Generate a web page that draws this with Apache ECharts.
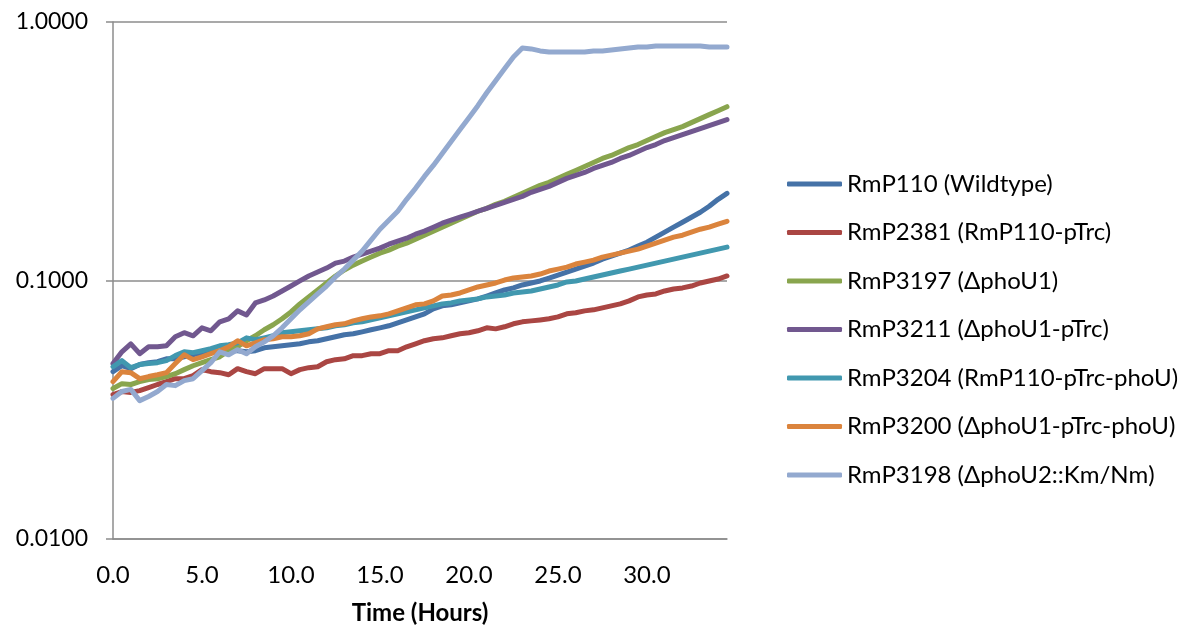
<!DOCTYPE html>
<html>
<head>
<meta charset="utf-8">
<script src="https://cdn.jsdelivr.net/npm/echarts@6/dist/echarts.min.js"></script>
<style>
html,body{margin:0;padding:0;background:#fff;}
#chart{width:1199px;height:630px;}
</style>
</head>
<body>
<div id="chart"></div>
<script>
const times = [0.0,0.5,1.0,1.5,2.0,2.5,3.0,3.5,4.0,4.5,5.0,5.5,6.0,6.5,7.0,7.5,8.0,8.5,9.0,9.5,
  10.0,10.5,11.0,11.5,12.0,12.5,13.0,13.5,14.0,14.5,15.0,15.5,16.0,16.5,17.0,17.5,18.0,18.5,19.0,19.5,
  20.0,20.5,21.0,21.5,22.0,22.5,23.0,23.5,24.0,24.5,25.0,25.5,26.0,26.5,27.0,27.5,28.0,28.5,29.0,29.5,
  30.0,30.5,31.0,31.5,32.0,32.5,33.0,33.5,34.0,34.5];

const seriesNames = ['RmP110 (Wildtype)','RmP2381 (RmP110-pTrc)','RmP3197 (\u0394phoU1)','RmP3211 (\u0394phoU1-pTrc)',
  'RmP3204 (RmP110-pTrc-phoU)','RmP3200 (\u0394phoU1-pTrc-phoU)','RmP3198 (\u0394phoU2::Km/Nm)'];

const rmp110 = [0.0444,0.0468,0.0456,0.0473,0.0481,0.0485,0.0498,0.0498,0.0507,0.0516,
  0.0526,0.0535,0.0526,0.0535,0.0535,0.0530,0.0535,0.0549,0.0554,0.0559,
  0.0564,0.0569,0.0579,0.0585,0.0595,0.0606,0.0617,0.0622,0.0633,0.0645,
  0.0656,0.0668,0.0686,0.0704,0.0723,0.0743,0.0777,0.0798,0.0805,0.0819,
  0.0834,0.0849,0.0871,0.0895,0.0919,0.0936,0.0961,0.0978,0.0996,0.1022,
  0.1050,0.1078,0.1107,0.1137,0.1168,0.1210,0.1243,0.1276,0.1311,0.1358,
  0.1407,0.1471,0.1538,0.1608,0.1680,0.1757,0.1836,0.1937,0.2061,0.2174];

const rmp2381 = [0.0362,0.0372,0.0369,0.0375,0.0385,0.0396,0.0406,0.0417,0.0417,0.0429,
  0.0452,0.0444,0.0440,0.0432,0.0456,0.0444,0.0436,0.0456,0.0456,0.0456,
  0.0436,0.0452,0.0460,0.0464,0.0485,0.0494,0.0498,0.0512,0.0512,0.0521,
  0.0521,0.0535,0.0535,0.0554,0.0569,0.0585,0.0595,0.0600,0.0611,0.0622,
  0.0628,0.0639,0.0656,0.0650,0.0662,0.0680,0.0692,0.0698,0.0704,0.0711,
  0.0723,0.0743,0.0750,0.0763,0.0770,0.0784,0.0798,0.0812,0.0834,0.0864,
  0.0879,0.0887,0.0911,0.0927,0.0936,0.0952,0.0978,0.0996,0.1013,0.1041];

const rmp3197 = [0.0382,0.0399,0.0396,0.0406,0.0414,0.0417,0.0425,0.0436,0.0452,0.0468,
  0.0481,0.0494,0.0507,0.0535,0.0554,0.0585,0.0611,0.0645,0.0674,0.0711,
  0.0756,0.0812,0.0864,0.0919,0.0978,0.1041,0.1098,0.1147,0.1189,0.1232,
  0.1276,0.1311,0.1358,0.1395,0.1445,0.1497,0.1552,0.1608,0.1666,0.1726,
  0.1788,0.1853,0.1903,0.1971,0.2025,0.2098,0.2174,0.2252,0.2333,0.2396,
  0.2483,0.2573,0.2666,0.2762,0.2862,0.2965,0.3045,0.3155,0.3269,0.3357,
  0.3479,0.3604,0.3734,0.3835,0.3939,0.4081,0.4228,0.4381,0.4539,0.4703];

const rmp3211 = [0.0477,0.0530,0.0569,0.0521,0.0554,0.0554,0.0559,0.0606,0.0628,0.0611,
  0.0656,0.0639,0.0692,0.0711,0.0763,0.0736,0.0819,0.0841,0.0871,0.0911,
  0.0952,0.0996,0.1041,0.1078,0.1117,0.1168,0.1189,0.1232,0.1265,0.1299,
  0.1334,0.1382,0.1420,0.1458,0.1511,0.1552,0.1608,0.1666,0.1711,0.1757,
  0.1804,0.1853,0.1903,0.1954,0.2007,0.2061,0.2116,0.2193,0.2252,0.2313,
  0.2396,0.2483,0.2550,0.2619,0.2713,0.2787,0.2862,0.2965,0.3045,0.3155,
  0.3269,0.3357,0.3479,0.3572,0.3669,0.3768,0.3869,0.3974,0.4081,0.4191];

const rmp3204 = [0.0464,0.0490,0.0460,0.0473,0.0477,0.0481,0.0490,0.0512,0.0530,0.0526,
  0.0535,0.0545,0.0559,0.0564,0.0574,0.0600,0.0590,0.0600,0.0611,0.0628,
  0.0633,0.0639,0.0645,0.0650,0.0656,0.0668,0.0674,0.0686,0.0692,0.0704,
  0.0717,0.0730,0.0743,0.0756,0.0770,0.0784,0.0798,0.0812,0.0819,0.0834,
  0.0841,0.0849,0.0864,0.0871,0.0879,0.0895,0.0903,0.0911,0.0927,0.0944,
  0.0961,0.0987,0.0996,0.1013,0.1032,0.1050,0.1069,0.1088,0.1107,0.1127,
  0.1147,0.1168,0.1189,0.1210,0.1232,0.1254,0.1276,0.1299,0.1322,0.1346];

const rmp3200 = [0.0406,0.0444,0.0440,0.0417,0.0425,0.0432,0.0440,0.0477,0.0516,0.0494,
  0.0507,0.0521,0.0535,0.0554,0.0585,0.0559,0.0574,0.0590,0.0595,0.0606,
  0.0606,0.0611,0.0622,0.0650,0.0662,0.0674,0.0680,0.0698,0.0711,0.0723,
  0.0730,0.0743,0.0763,0.0784,0.0805,0.0812,0.0834,0.0871,0.0879,0.0895,
  0.0919,0.0944,0.0961,0.0978,0.1004,0.1022,0.1032,0.1041,0.1059,0.1088,
  0.1107,0.1127,0.1158,0.1178,0.1199,0.1232,0.1254,0.1276,0.1299,0.1322,
  0.1358,0.1395,0.1432,0.1471,0.1497,0.1538,0.1579,0.1608,0.1651,0.1695];

const rmp3198 = [0.0350,0.0372,0.0379,0.0343,0.0356,0.0372,0.0396,0.0392,0.0410,0.0417,
  0.0448,0.0481,0.0530,0.0516,0.0540,0.0521,0.0554,0.0579,0.0611,0.0656,
  0.0711,0.0770,0.0826,0.0887,0.0952,0.1032,0.1107,0.1199,0.1299,0.1432,
  0.1579,0.1711,0.1853,0.2061,0.2272,0.2527,0.2787,0.3100,0.3448,0.3835,
  0.4266,0.4745,0.5325,0.5924,0.6589,0.7329,0.7939,0.7869,0.7730,0.7662,
  0.7662,0.7662,0.7662,0.7662,0.7730,0.7730,0.7799,0.7869,0.7939,0.8009,
  0.8009,0.8081,0.8081,0.8081,0.8081,0.8081,0.8081,0.8009,0.8009,0.8009];

const seriesValues = [rmp110, rmp2381, rmp3197, rmp3211, rmp3204, rmp3200, rmp3198];
const colors = ['#4572A7','#AA4643','#89A54E','#71588F','#4198AF','#DB843D','#93A9CF'];

const FONT = 'Lato, "Open Sans", sans-serif';
const chart = echarts.init(document.getElementById('chart'), null, {renderer: 'canvas'});

chart.setOption({
  animation: false,
  backgroundColor: '#ffffff',
  color: colors,
  textStyle: {fontFamily: FONT},
  grid: {left: 113, right: 472, top: 22, bottom: 89, containLabel: false},
  legend: {
    orient: 'vertical',
    left: 787,
    top: 171,
    padding: 0,
    icon: 'roundRect',
    itemWidth: 55,
    itemHeight: 5,
    itemGap: 22.5,
    textStyle: {fontFamily: FONT, fontSize: 24, color: '#000', lineHeight: 26},
    data: seriesNames
  },
  xAxis: {
    type: 'value',
    min: 0,
    max: 34.5,
    interval: 5,
    axisLine: {show: true, onZero: false, lineStyle: {color: '#8c8c8c', width: 1.5}},
    axisTick: {show: false},
    splitLine: {show: false},
    axisLabel: {
      formatter: v => v.toFixed(1),
      fontFamily: FONT, fontSize: 24, color: '#000', margin: 24,
      showMaxLabel: false
    },
    name: 'Time (Hours)',
    nameLocation: 'middle',
    nameGap: 62,
    nameTextStyle: {fontFamily: FONT, fontSize: 24, fontWeight: 'bold', color: '#000'}
  },
  yAxis: {
    type: 'log',
    logBase: 10,
    min: 0.01,
    max: 1,
    axisLine: {show: true, lineStyle: {color: '#8c8c8c', width: 1.5}},
    axisTick: {show: true, length: 7, lineStyle: {color: '#8c8c8c', width: 1.5}},
    splitLine: {show: true, lineStyle: {color: '#8c8c8c', width: 1.5}},
    minorTick: {show: false},
    axisLabel: {
      formatter: v => Number(v).toFixed(4),
      fontFamily: FONT, fontSize: 23, color: '#000', margin: 25
    }
  },
  series: seriesNames.map((name, i) => ({
    name: name,
    type: 'line',
    symbol: 'none',
    smooth: false,
    lineStyle: {width: 5, color: colors[i], cap: 'round', join: 'round'},
    itemStyle: {color: colors[i]},
    data: times.map((t, j) => [t, seriesValues[i][j]])
  }))
});
</script>
</body>
</html>
